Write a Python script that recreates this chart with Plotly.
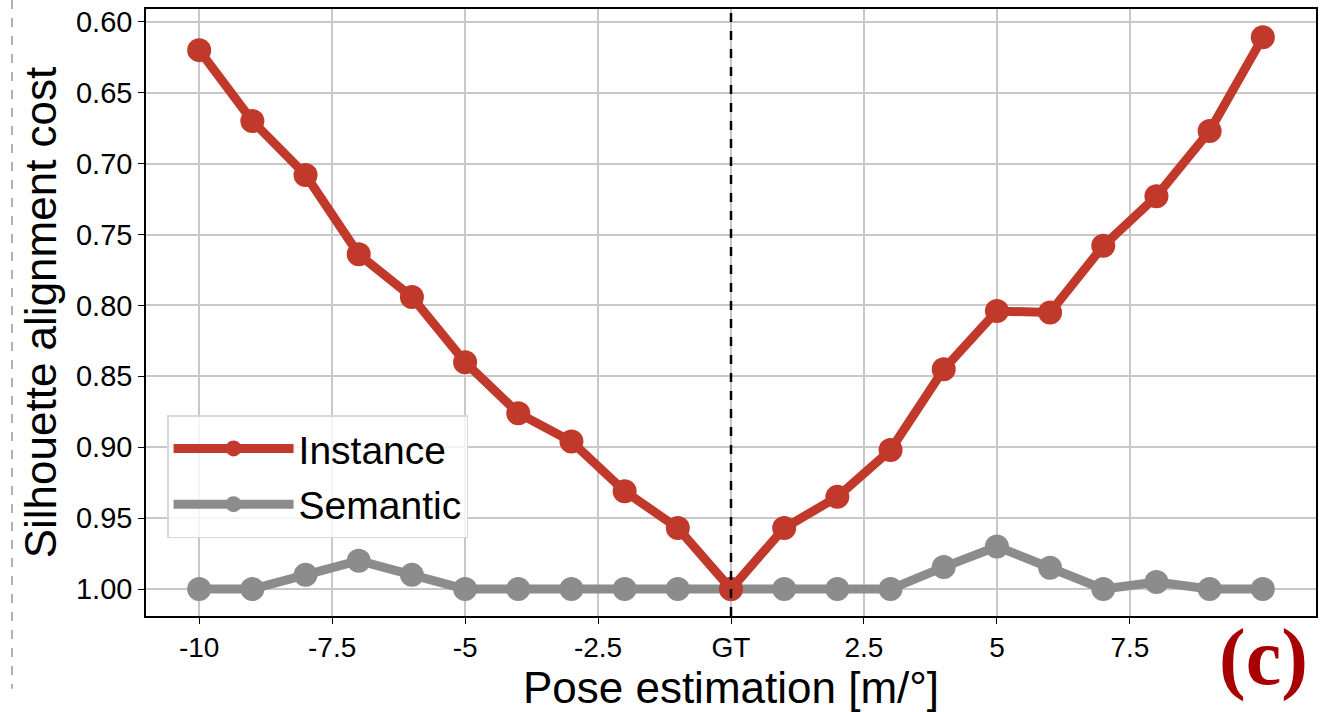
import plotly.graph_objects as go

x_vals = [-10, -9, -8, -7, -6, -5, -4, -3, -2, -1, 0, 1, 2, 3, 4, 5, 6, 7, 8, 9, 10]
instance = [0.620, 0.670, 0.708, 0.764, 0.794, 0.840, 0.876, 0.896, 0.931, 0.957, 1.000,
            0.957, 0.935, 0.902, 0.845, 0.804, 0.805, 0.758, 0.723, 0.677, 0.611]
semantic = [1.000, 1.000, 0.990, 0.980, 0.990, 1.000, 1.000, 1.000, 1.000, 1.000, 1.000,
            1.000, 1.000, 1.000, 0.9845, 0.970, 0.985, 1.000, 0.995, 1.000, 1.000]
x_tickvals = [-10, -7.5, -5, -2.5, 0, 2.5, 5, 7.5]
x_ticktext = ["-10", "-7.5", "-5", "-2.5", "GT", "2.5", "5", "7.5"]
y_tickvals = [0.60, 0.65, 0.70, 0.75, 0.80, 0.85, 0.90, 0.95, 1.00]

RED = "#C0392B"
GRAY = "#8C8C8C"
FONT = "Liberation Sans, Arial, sans-serif"

fig = go.Figure()
fig.add_trace(go.Scatter(x=x_vals, y=semantic, mode="lines+markers", name="Semantic",
                         legendgroup="b", legendrank=2,
                         line=dict(color=GRAY, width=9), marker=dict(color=GRAY, size=24)))
fig.add_trace(go.Scatter(x=x_vals, y=instance, mode="lines+markers", name="Instance",
                         legendgroup="a", legendrank=1,
                         line=dict(color=RED, width=9), marker=dict(color=RED, size=24)))

fig.add_vline(x=0, line=dict(color="black", width=2.5, dash="dash"))

# left-edge dashed panel separator
fig.add_shape(type="line", xref="paper", yref="paper", x0=-0.1145, x1=-0.1145, y0=1.015, y1=-0.12,
              line=dict(color="#999999", width=1.5, dash="dash"))

fig.add_annotation(text="<b>(c)</b>", xref="paper", yref="paper", x=0.955, y=-0.068,
                   showarrow=False, xanchor="center", yanchor="middle",
                   font=dict(family="Liberation Serif, DejaVu Serif, serif", size=80, color="#A80000"))

fig.update_layout(
    width=1326, height=712,
    paper_bgcolor="white", plot_bgcolor="white",
    margin=dict(l=146, r=10, t=9, b=96),
    font=dict(family=FONT, color="black"),
    showlegend=True,
    legend=dict(x=0.018, y=0.331, xanchor="left", yanchor="top",
                bgcolor="rgba(255,255,255,0.8)", bordercolor="#D8D8D8", borderwidth=1.5,
                font=dict(size=39, family=FONT), traceorder="grouped",
                itemwidth=120, tracegroupgap=2),
)
fig.update_xaxes(range=[-11, 11], tickvals=x_tickvals, ticktext=x_ticktext,
                 showgrid=True, gridcolor="#C8C8C8", gridwidth=1.5,
                 showline=True, linecolor="black", linewidth=1.5, mirror=True,
                 ticks="outside", ticklen=6, tickcolor="black",
                 tickfont=dict(size=28), zeroline=False, automargin=False,
                 title=dict(text="Pose estimation [m/°]", font=dict(size=44), standoff=2))
fig.update_yaxes(range=[1.019, 0.591], tickvals=y_tickvals, tickformat=".2f",
                 showgrid=True, gridcolor="#C8C8C8", gridwidth=1.5,
                 showline=True, linecolor="black", linewidth=1.5, mirror=True,
                 ticks="outside", ticklen=6, tickcolor="black",
                 tickfont=dict(size=29), zeroline=False, automargin=False,
                 title=dict(text="Silhouette alignment cost", font=dict(size=44), standoff=6))

fig.write_html("out.html", config={"displayModeBar": False},
               post_script="document.body.style.margin='0';")
